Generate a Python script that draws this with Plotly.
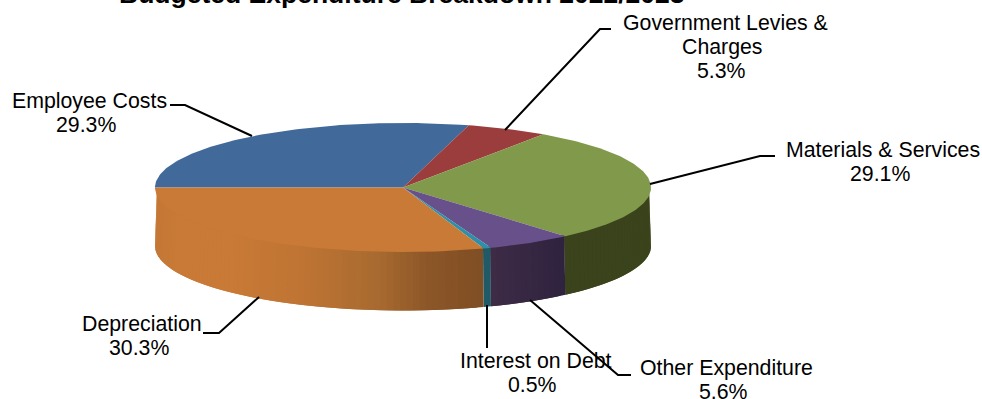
import numpy as np
import plotly.graph_objects as go

categories = [["Employee Costs"], ["Government Levies &", "Charges"], ["Materials & Services"],
              ["Other Expenditure"], ["Interest on Debt"], ["Depreciation"]]
shares = [29.3, 5.3, 29.1, 5.6, 0.5, 30.3]
title_text = "Budgeted Expenditure Breakdown 2022/2023"

top_colours = ["#41699a", "#9b3d3c", "#80994a", "#68508a", "#2f8fa8", "#c87a36"]
# wall shading: (x pixel, rgb) stops per slice
wall_stops = [
    None, None,
    [(560, (58, 67, 27)), (660, (58, 67, 27))],
    [(490, (63, 44, 71)), (566, (47, 35, 63))],
    [(480, (31, 90, 102)), (495, (31, 90, 102))],
    [(150, (196, 120, 54)), (175, (200, 122, 54)), (235, (200, 122, 54)), (300, (192, 117, 52)),
     (380, (168, 106, 48)), (430, (140, 86, 40)), (490, (126, 78, 36))],
]
CX, CY, RX, RY, DEPTH = 403.0, 187.5, 248.0, 64.5, 58.5
TUCK = 2.0  # wall top edge sits this far inside the top face, avoiding a hairline

fig = go.Figure()


def poly(xs, ys, colour):
    fig.add_trace(go.Scatter(x=xs, y=ys, mode="lines", fill="toself", fillcolor=colour,
                             line=dict(color=colour, width=0), hoverinfo="skip", showlegend=False))


def pt(t, inset=0.0):
    return CX + (RX - inset) * np.cos(t), CY - (RY - inset) * np.sin(t)


total = sum(shares)
edges = np.pi - 2 * np.pi * np.concatenate([[0], np.cumsum(shares)]) / total

# walls, clipped to the front half of the ellipse; each strip runs on past its end
# and is painted over by the next, so no seams show
for i, stops in enumerate(wall_stops):
    if stops is None:
        continue
    a0, a1 = edges[i], edges[i + 1]
    a0, a1 = min(a0, 0.0), max(a1, -np.pi)
    n = max(1, int(abs(a0 - a1) / np.radians(1.5)))
    ts = np.linspace(a0, a1, n + 1)
    sx = [s[0] for s in stops]
    for j in range(n):
        t0, t1 = ts[j], ts[min(j + 2, n)]
        seg = np.linspace(t0, t1, 4)
        xa, ya = pt(seg)
        xi, yi = pt(seg, TUCK)
        xm = pt((ts[j] + ts[j + 1]) / 2)[0]
        rgb = [int(np.interp(xm, sx, [s[1][k] for s in stops])) for k in range(3)]
        poly([*xi, *xa[::-1], xi[0]], [*yi, *(ya[::-1] + DEPTH), yi[0]], "rgb(%d,%d,%d)" % tuple(rgb))

# top faces
for i, col in enumerate(top_colours):
    n = max(2, int(abs(edges[i] - edges[i + 1]) / np.radians(1)))
    ts = np.linspace(edges[i], edges[i + 1], n + 1)
    xs, ys = pt(ts)
    poly([CX, *xs, CX], [CY, *ys, CY], col)

# leader lines
leaders = [
    [(252, 136), (185, 105), (170, 105)],
    [(505, 130), (600, 29), (611, 29)],
    [(650, 184), (760, 156), (775, 156)],
    [(530, 300), (618, 375), (631, 375)],
    [(487, 305), (487, 348)],
    [(259, 297), (219, 333), (203, 333)],
]
for path in leaders:
    fig.add_trace(go.Scatter(x=[p[0] for p in path], y=[p[1] for p in path], mode="lines",
                             line=dict(color="black", width=2), hoverinfo="skip", showlegend=False))

label_pos = [(89, 101), (725, 23), (883, 150), (726.5, 367.5), (536, 361), (142, 324)]
LINE_GAP = 24
ann = []
for lines, v, (x, y) in zip(categories, shares, label_pos):
    texts = [*lines, f"{v}%"]
    for k, txt in enumerate(texts):
        dx = -3.5 if k == len(texts) - 1 else (-2.5 if k > 0 else 0)
        ann.append(dict(x=x + dx, y=y + k * LINE_GAP, xref="x", yref="y", text=txt, showarrow=False,
                        xanchor="center", yanchor="middle", align="center",
                        font=dict(family="Liberation Sans", size=21.3, color="black")))
ann.append(dict(x=402, y=0, xref="x", yref="y", text=f"<b>{title_text}</b>", showarrow=False,
                xanchor="center", yanchor="middle", yshift=6,
                font=dict(family="Liberation Sans", size=26.5, color="black")))

fig.update_layout(
    width=982, height=399, margin=dict(l=0, r=0, t=0, b=0),
    paper_bgcolor="white", plot_bgcolor="white", showlegend=False, annotations=ann,
    xaxis=dict(range=[0, 982], visible=False, fixedrange=True),
    yaxis=dict(range=[399, 0], visible=False, fixedrange=True),
)
fig.write_html("out.html", config={"displayModeBar": False},
               post_script="document.body.style.margin='0';document.body.style.overflow='hidden';")
